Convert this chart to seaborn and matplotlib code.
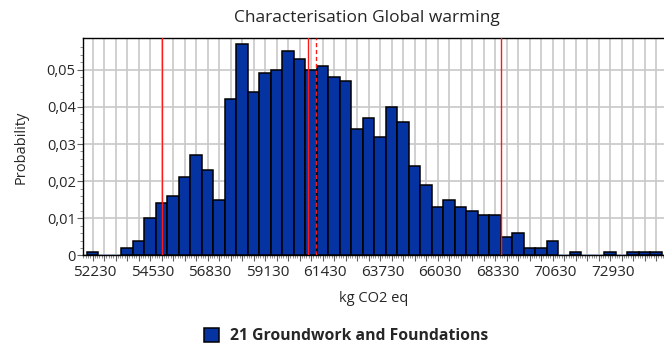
import numpy as np
import pandas as pd
import matplotlib
matplotlib.use("Agg")
import matplotlib.pyplot as plt
import seaborn as sns
from matplotlib.patches import Patch
from matplotlib.ticker import FixedLocator
from matplotlib.transforms import ScaledTranslation

# Monte Carlo result: probability per bin (1000 runs), bins of 460 kg CO2 eq
first_center = 52230
bin_width = 460
probabilities = [
    0.001, 0.000, 0.000, 0.002, 0.004, 0.010, 0.014, 0.016, 0.021, 0.027,
    0.023, 0.015, 0.042, 0.057, 0.044, 0.049, 0.050, 0.055, 0.053, 0.050,
    0.051, 0.048, 0.047, 0.034, 0.037, 0.032, 0.040, 0.036, 0.024, 0.019,
    0.013, 0.015, 0.013, 0.012, 0.011, 0.011, 0.005, 0.006, 0.002, 0.002,
    0.004, 0.000, 0.001, 0.000, 0.000, 0.001, 0.000, 0.001, 0.001, 0.001,
]
series_name = "21 Groundwork and Foundations"
x_tick_values = [52230, 54530, 56830, 59130, 61430, 63730, 66030, 68330, 70630, 72930]
y_tick_values = [0, 0.01, 0.02, 0.03, 0.04, 0.05]
y_tick_labels = ["0", "0,01", "0,02", "0,03", "0,04", "0,05"]

# Summary statistics (95% interval bounds, median, mean)
lower_bound = 55000
median_value = 60860
mean_value = 61160
upper_bound = 68560

centers = first_center + bin_width * np.arange(len(probabilities))
edges = [float(c - bin_width / 2) for c in centers] + [float(centers[-1] + bin_width / 2)]
df = pd.DataFrame({"kg CO2 eq": centers, "Probability": probabilities})

sns.set_theme(style="white")
plt.rcParams["font.family"] = ["Open Sans", "DejaVu Sans"]

bar_color = "#0533a2"
grid_color = "#c8c8c8"

fig = plt.figure(figsize=(6.64, 3.46), dpi=100)
ax = fig.add_axes([0.1255, 0.2616, 0.8745, 0.6272])

sns.histplot(data=df, x="kg CO2 eq", weights="Probability", bins=edges,
             color=bar_color, edgecolor="black", linewidth=1.1, alpha=1.0,
             ax=ax)

# empty bins show only a thin blue baseline
for patch, p in zip(ax.patches, probabilities):
    patch.set_zorder(3)
    if p == 0:
        patch.set_edgecolor("#3d6ad0")
        patch.set_linewidth(1.0)

for xv, ls in [(lower_bound, "-"), (median_value, "-"), (mean_value, (0, (3, 2))), (upper_bound, "-")]:
    ax.axvline(xv, color="#ff1a1a", lw=1.0, ls=ls, zorder=4)

ax.set_xlim(51862, 75090)
ax.set_ylim(0, 0.0584)

ax.set_xticks(centers, labels=[str(c) if c in x_tick_values else "" for c in centers])
ax.xaxis.set_minor_locator(FixedLocator(np.arange(first_center - 100 * 92, 75090, 92)))
ax.set_yticks(y_tick_values, labels=y_tick_labels)
ax.yaxis.set_minor_locator(FixedLocator(np.arange(0, 0.058, 0.002)))

ax.set_axisbelow(True)
ax.grid(True, which="major", color=grid_color, lw=1.2)

ax.tick_params(axis="x", which="major", labelsize=11, pad=2.5)
ax.tick_params(axis="y", which="major", labelsize=10.5, pad=1.5)
ax.tick_params(axis="both", which="major", direction="out", length=4, width=0.8,
               color="#606060", bottom=True, left=True)
ax.tick_params(axis="both", which="minor", direction="out", length=2.5, width=0.6,
               color="#808080", bottom=True, left=True)

# nudge the value labels slightly to the right of their ticks
shift = ScaledTranslation(2.5 / 100, 0, fig.dpi_scale_trans)
for lbl in ax.get_xticklabels():
    lbl.set_transform(lbl.get_transform() + shift)

for side in ["left", "bottom", "top"]:
    ax.spines[side].set_color("black")
    ax.spines[side].set_linewidth(1.0)
ax.spines["right"].set_visible(False)

ax.set_xlabel("kg CO2 eq", fontsize=10.5, labelpad=8)
ax.set_ylabel("Probability", fontsize=10.5, labelpad=13)

fig.text(367 / 664, 1 - 18 / 346, "Characterisation Global warming", ha="center", va="center",
         fontsize=12.5)

handle = Patch(facecolor=bar_color, edgecolor="black", linewidth=1.1, label=series_name)
fig.legend(handles=[handle], loc="center", bbox_to_anchor=(346 / 664, 1 - 336 / 346),
           frameon=False, prop={"weight": "bold", "size": 11.3},
           handlelength=1.0, handleheight=1.0, handletextpad=0.7)

fig.savefig("out.png", dpi=100)
